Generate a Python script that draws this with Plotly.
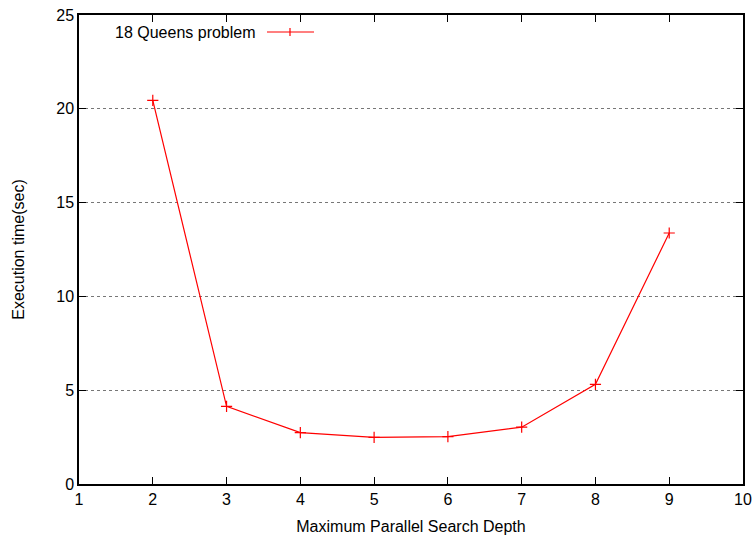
import plotly.graph_objects as go

depth = [2, 3, 4, 5, 6, 7, 8, 9]
exec_time = [20.45, 4.14, 2.74, 2.49, 2.52, 3.03, 5.31, 13.38]
series_name = "18 Queens problem"

fig = go.Figure()
fig.add_trace(go.Scatter(
    x=depth, y=exec_time, mode="lines+markers", name=series_name,
    line=dict(color="#ff0000", width=1.2),
    marker=dict(symbol="cross-thin", size=8, line=dict(color="#ff0000", width=1.2)),
    showlegend=False,
))

font = dict(family="Liberation Sans, Arial, sans-serif", size=16, color="#000000")

fig.update_layout(
    width=756, height=537,
    margin=dict(l=79, r=13, t=15, b=53, autoexpand=False),
    paper_bgcolor="white", plot_bgcolor="white",
    font=font,
    xaxis=dict(
        range=[1, 10], dtick=1, tick0=1, showgrid=False, zeroline=False, automargin=False,
        ticks="inside", ticklen=7, tickcolor="black", mirror="ticks",
        showline=True, linecolor="black", linewidth=1.5,
        title=dict(text="Maximum Parallel Search Depth", standoff=14, font=font),
    ),
    yaxis=dict(
        range=[0, 25], dtick=5, showgrid=True, gridcolor="#777777", griddash="dot",
        gridwidth=1, zeroline=False, automargin=False,
        ticks="inside", ticklen=7, tickcolor="black", mirror="ticks",
        showline=True, linecolor="black", linewidth=1.5,
        title=dict(text="Execution time(sec)", standoff=28, font=font),
    ),
)

# legend (gnuplot style: text left, sample right)
fig.add_annotation(xref="paper", yref="paper", x=(258 - 79) / 664, y=1 - (32 - 15) / 469,
                   text=series_name, showarrow=False, xanchor="right", yanchor="middle", font=font)
x0 = (267 - 79) / 664
x1 = (314 - 79) / 664
xm = (290 - 79) / 664
yl = 1 - (32 - 15) / 469
fig.add_shape(type="line", xref="paper", yref="paper", x0=x0, x1=x1, y0=yl, y1=yl,
              line=dict(color="#ff0000", width=1.2))
fig.add_shape(type="line", xref="paper", yref="paper", x0=xm, x1=xm, y0=yl - 4 / 469, y1=yl + 4 / 469,
              line=dict(color="#ff0000", width=1.2))

fig.write_html("out.html")
